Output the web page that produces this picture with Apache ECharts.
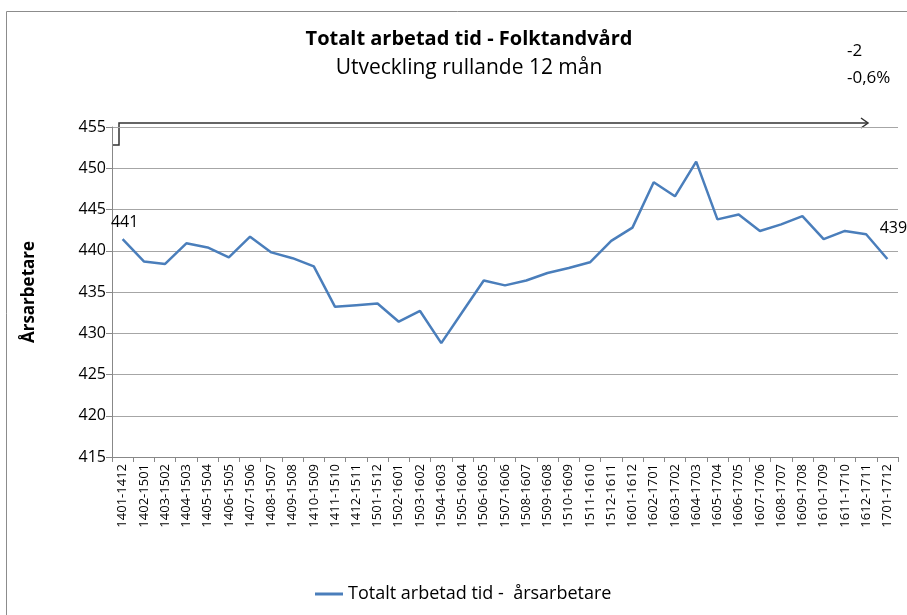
<!DOCTYPE html>
<html>
<head>
<meta charset="utf-8">
<script src="https://cdn.jsdelivr.net/npm/echarts@6/dist/echarts.min.js"></script>
<style>
  html, body { margin: 0; padding: 0; background: #fff; }
  #chart { width: 907px; height: 615px; }
</style>
</head>
<body>
<div id="chart"></div>
<script>
// perioder (rullande 12 mån)
var categories = [
    '1401-1412', '1402-1501', '1403-1502', '1404-1503', '1405-1504', '1406-1505',
    '1407-1506', '1408-1507', '1409-1508', '1410-1509', '1411-1510', '1412-1511',
    '1501-1512', '1502-1601', '1503-1602', '1504-1603', '1505-1604', '1506-1605',
    '1507-1606', '1508-1607', '1509-1608', '1510-1609', '1511-1610', '1512-1611',
    '1601-1612', '1602-1701', '1603-1702', '1604-1703', '1605-1704', '1606-1705',
    '1607-1706', '1608-1707', '1609-1708', '1610-1709', '1611-1710', '1612-1711',
    '1701-1712'
];

// årsarbetare
var values = [
    441.4, 438.7, 438.4, 440.9, 440.4, 439.2, 441.7, 439.8, 439.1, 438.1,
    433.2, 433.4, 433.6, 431.4, 432.7, 428.8, 432.6, 436.4, 435.8, 436.4,
    437.3, 437.9, 438.6, 441.2, 442.8, 448.3, 446.6, 450.8, 443.8, 444.4,
    442.4, 443.2, 444.2, 441.4, 442.4, 442.0, 439.0
];

var yTicks = [415, 420, 425, 430, 435, 440, 445, 450, 455];

var seriesName = 'Totalt arbetad tid -  årsarbetare';
var font = '"Open Sans", sans-serif';

var myChart = echarts.init(document.getElementById('chart'));

// bara första och sista punkten får etikett
var lineData = values.map(function (v, i) {
    var item = { value: v };
    if (i === 0) {
        item.label = { show: true, position: 'top', offset: [2, -4], formatter: String(Math.round(v)) };
    } else if (i === values.length - 1) {
        item.label = { show: true, position: 'top', offset: [6, -18], formatter: String(Math.round(v)) };
    }
    return item;
});

var option = {
    animation: false,
    textStyle: { fontFamily: font },
    title: [{
        text: 'Totalt arbetad tid - Folktandvård',
        subtext: 'Utveckling rullande 12 mån',
        left: 464,
        textAlign: 'center',
        top: 24,
        itemGap: 9,
        textStyle: { fontSize: 20, fontWeight: 'bold', color: '#000', fontFamily: font },
        subtextStyle: { fontSize: 21, color: '#000', fontFamily: font }
    }],
    legend: {
        bottom: 7,
        left: 310,
        icon: 'path://M0,0 L28,0 L28,3 L0,3 Z',
        itemWidth: 28,
        itemHeight: 3,
        itemGap: 4,
        textStyle: { fontSize: 18, color: '#000', fontFamily: font },
        data: [seriesName]
    },
    grid: {
        left: 112,
        right: 9,
        top: 127,
        bottom: 158
    },
    xAxis: {
        type: 'category',
        data: categories,
        boundaryGap: true,
        axisLine: { lineStyle: { color: '#888' } },
        axisTick: { show: true, length: 5, alignWithLabel: false, lineStyle: { color: '#888' } },
        axisLabel: {
            rotate: 90,
            interval: 0,
            fontSize: 13,
            color: '#000',
            margin: 7,
            fontFamily: font
        }
    },
    yAxis: {
        type: 'value',
        min: yTicks[0],
        max: yTicks[yTicks.length - 1],
        interval: 5,
        name: 'Årsarbetare',
        nameLocation: 'middle',
        nameGap: 74,
        nameTextStyle: { fontSize: 17, fontWeight: 'bold', color: '#000', fontFamily: font },
        axisLine: { show: true, lineStyle: { color: '#888' } },
        axisTick: { show: true, length: 6, inside: false, lineStyle: { color: '#888' } },
        axisLabel: { fontSize: 16, color: '#000', margin: 6, fontFamily: font },
        splitLine: { lineStyle: { color: '#a6a6a6', width: 1 } }
    },
    series: [{
        name: seriesName,
        type: 'line',
        data: lineData,
        symbol: 'circle',
        symbolSize: 0,
        showAllSymbol: true,
        smooth: false,
        lineStyle: { color: '#4a7ebb', width: 2.5 },
        itemStyle: { color: '#4a7ebb' },
        label: { fontSize: 16, color: '#000', fontFamily: font },
        emphasis: { disabled: true }
    }],
    graphic: [
        // ram runt diagrammet
        {
            type: 'rect',
            shape: { x: 6.5, y: 11.5, width: 920, height: 640 },
            style: { fill: 'none', stroke: '#8c8c8c', lineWidth: 1 },
            silent: true
        },
        // pil för förändring
        {
            type: 'polyline',
            shape: { points: [[113, 145], [119, 145], [119, 123], [868, 123]] },
            style: { fill: 'none', stroke: '#333', lineWidth: 1.5 },
            silent: true
        },
        {
            type: 'polyline',
            shape: { points: [[861, 118], [868, 123], [861, 128]] },
            style: { fill: 'none', stroke: '#333', lineWidth: 1.5 },
            silent: true
        },
        {
            type: 'text',
            left: 847,
            top: 43,
            style: { text: '-2', fontSize: 17, fill: '#000', fontFamily: font },
            silent: true
        },
        {
            type: 'text',
            left: 847,
            top: 70,
            style: { text: '-0,6%', fontSize: 17, fill: '#000', fontFamily: font },
            silent: true
        }
    ]
};

myChart.setOption(option);
</script>
</body>
</html>
